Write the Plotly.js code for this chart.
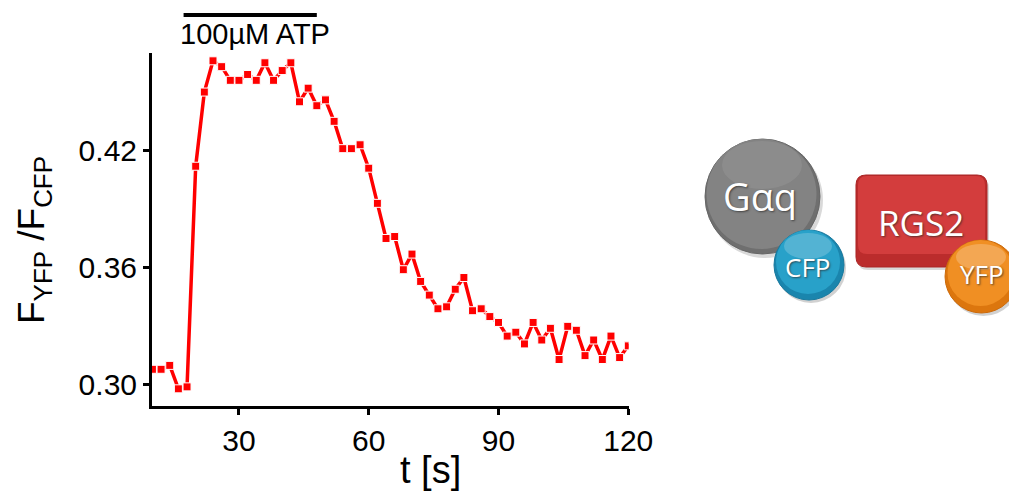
<!DOCTYPE html>
<html>
<head>
<meta charset="utf-8">
<script src="https://cdn.plot.ly/plotly-3.0.1.min.js"></script>
<style>html,body{margin:0;padding:0;background:#fff;}#chart{width:1009px;height:493px;}</style>
</head>
<body>
<div id="chart"></div>
<script>
// ---- data ----
const timeS = [10,12,14,16,18,20,22,24,26,28,30,32,34,36,38,40,42,44,46,48,50,52,54,56,58,60,
  62,64,66,68,70,72,74,76,78,80,82,84,86,88,90,92,94,96,98,100,102,104,106,108,110,112,114,116,118,120,122];
const fretRatio = [0.308,0.308,0.310,0.298,0.299,0.412,0.450,0.466,0.463,0.456,0.456,0.459,0.456,0.465,0.456,0.461,0.465,0.445,0.452,0.443,0.446,0.435,0.421,0.421,0.423,0.411,
  0.393,0.375,0.376,0.359,0.367,0.353,0.346,0.339,0.340,0.349,0.355,0.338,0.339,0.335,0.332,0.325,0.327,0.321,0.332,0.323,0.329,0.313,0.330,0.328,0.315,0.323,0.313,0.325,0.314,0.320,0.316];
const xTicks = [30,60,90,120];
const yTicks = [0.30,0.36,0.42];
const atpWindow = [17.2,48];
const atpLabel = '100µM ATP';
const xTitle = 't [s]';
const yTitle = 'F<sub>YFP</sub> /F<sub>CFP</sub>';
const diagramLabels = ['Gαq','CFP','RGS2','YFP'];

// ---- helpers for placing the decorative diagram (pixel -> paper) ----
const W = 1009, H = 493;
const px = x => x / W;
const py = y => 1 - y / H;
function circle(cx, cy, r, fill, line, opacity) {
  return {type:'circle', xref:'paper', yref:'paper',
    x0:px(cx-r), x1:px(cx+r), y0:py(cy+r), y1:py(cy-r),
    fillcolor:fill, opacity:opacity==null?1:opacity,
    line:{color:line||'rgba(0,0,0,0)', width:line?1:0}};
}
function roundRect(x0, y0, x1, y1, rr, fill, line, opacity) {
  const p = (x,y) => px(x).toFixed(5)+','+py(y).toFixed(5);
  const path = 'M'+p(x0+rr,y0)+' L'+p(x1-rr,y0)+' Q'+p(x1,y0)+' '+p(x1,y0+rr)+
    ' L'+p(x1,y1-rr)+' Q'+p(x1,y1)+' '+p(x1-rr,y1)+' L'+p(x0+rr,y1)+' Q'+p(x0,y1)+' '+p(x0,y1-rr)+
    ' L'+p(x0,y0+rr)+' Q'+p(x0,y0)+' '+p(x0+rr,y0)+' Z';
  return {type:'path', xref:'paper', yref:'paper', path:path, fillcolor:fill,
    opacity:opacity==null?1:opacity, line:{color:line||'rgba(0,0,0,0)', width:line?1:0}};
}
function ell(cx, cy, rx, ry, fill, opacity) {
  return {type:'circle', xref:'paper', yref:'paper',
    x0:px(cx-rx), x1:px(cx+rx), y0:py(cy+ry), y1:py(cy-ry),
    fillcolor:fill, opacity:opacity, line:{width:0}};
}

const shapes = [
  // ATP application bar
  {type:'line', xref:'x', yref:'paper', x0:atpWindow[0], x1:atpWindow[1], y0:py(15), y1:py(15),
   line:{color:'black', width:4}},
  // Gaq circle
  circle(765, 200, 58, '#000000', null, 0.15),
  circle(762.5, 196.5, 57.5, '#6f6f6f', '#666666'),
  circle(761.5, 194, 55, '#858585', null, 0.9),
  ell(762, 165, 40, 24, '#ffffff', 0.08),
  // CFP circle
  circle(811, 268, 35, '#000000', null, 0.18),
  circle(809, 265, 35, '#1a85ad', '#18799e'),
  circle(808, 262, 32, '#2aa4cc', null, 0.9),
  ell(808, 246, 24, 13, '#ffffff', 0.2),
  // RGS2 rounded rectangle
  roundRect(858, 178, 989, 270, 10, '#000000', null, 0.15),
  roundRect(856, 175, 987, 267, 10, '#bb2c2c', '#aa2626'),
  roundRect(858, 176, 985, 254, 9, '#d63f3f', null, 0.9),
  // YFP circle
  circle(983.5, 279.5, 36.5, '#000000', null, 0.18),
  circle(981.5, 276.5, 36.5, '#dc760e', '#cc6a0a'),
  circle(980.5, 273, 33, '#f29226', null, 0.9),
  ell(981, 257, 25, 13, '#ffffff', 0.22)
];

function label(text, x, y, size) {
  return {text:text, xref:'paper', yref:'paper', x:px(x), y:py(y), xanchor:'center', yanchor:'middle',
     showarrow:false, font:{family:'Open Sans, Noto Sans, sans-serif', size:size, color:'#ffffff',
     shadow:'1px 1px 2px rgba(40,40,40,0.7)'}};
}

const annotations = [
  {text:atpLabel, xref:'x', yref:'paper', x:(atpWindow[0]+atpWindow[1])/2 + 1.0, y:py(34),
   xanchor:'center', yanchor:'middle', showarrow:false,
   font:{family:'Liberation Sans, Arial, sans-serif', size:29, color:'black'}},
  {text:xTitle, xref:'paper', yref:'paper', x:px(430), y:py(470), xanchor:'center', yanchor:'middle',
   showarrow:false, font:{family:'Liberation Sans, Arial, sans-serif', size:38, color:'black'}},
  {text:yTitle, xref:'paper', yref:'paper', x:px(34), y:py(240), xanchor:'center', yanchor:'middle',
   textangle:-90, showarrow:false, font:{family:'Liberation Sans, Arial, sans-serif', size:37, color:'black'}},
  label(diagramLabels[0], 760, 196, 38),
  label(diagramLabels[1], 807, 267, 26),
  label(diagramLabels[2], 921, 223, 35),
  label(diagramLabels[3], 982, 274, 26)
];

const trace = {
  x: timeS, y: fretRatio, type:'scatter', mode:'lines+markers',
  line:{color:'#ff0000', width:3.5},
  marker:{symbol:'square', size:8, color:'#ff0000', line:{color:'#ffffff', width:1}},
  hoverinfo:'x+y'
};

const axisFont = {family:'Liberation Sans, Arial, sans-serif', size:30, color:'black'};
const layout = {
  width:W, height:H,
  margin:{l:0, r:0, t:0, b:0, pad:0},
  paper_bgcolor:'#ffffff', plot_bgcolor:'rgba(0,0,0,0)',
  showlegend:false,
  xaxis:{domain:[px(152), px(628.5)], range:[9.9, 120.05], tickvals:xTicks, ticktext:xTicks.map(String),
    showline:true, linecolor:'black', linewidth:3, ticks:'outside', ticklen:6, tickwidth:3, tickcolor:'black',
    showgrid:false, zeroline:false, tickfont:axisFont, automargin:false, fixedrange:true},
  yaxis:{domain:[py(406), py(53)], range:[0.2892, 0.4700], tickvals:yTicks, ticktext:yTicks.map(v=>v.toFixed(2)),
    showline:true, linecolor:'black', linewidth:3, ticks:'outside', ticklen:6, tickwidth:3, tickcolor:'black',
    showgrid:false, zeroline:false, tickfont:axisFont, automargin:false, fixedrange:true},
  shapes:shapes,
  annotations:annotations
};

Plotly.newPlot('chart', [trace], layout, {displayModeBar:false, staticPlot:true});
</script>
</body>
</html>
